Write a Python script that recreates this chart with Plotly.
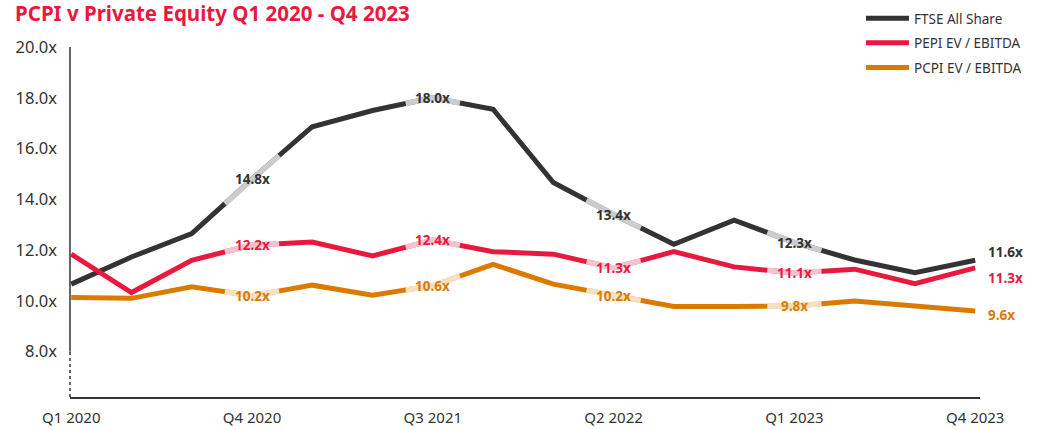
import plotly.graph_objects as go
import numpy as np

quarters = ["Q1 2020", "Q2 2020", "Q3 2020", "Q4 2020",
            "Q1 2021", "Q2 2021", "Q3 2021", "Q4 2021",
            "Q1 2022", "Q2 2022", "Q3 2022", "Q4 2022",
            "Q1 2023", "Q2 2023", "Q3 2023", "Q4 2023"]
ftse = [10.66, 11.73, 12.65, 14.8, 16.86, 17.5, 18.0, 17.55,
        14.66, 13.4, 12.23, 13.18, 12.3, 11.61, 11.11, 11.6]
pepi = [11.84, 10.33, 11.6, 12.2, 12.32, 11.77, 12.4, 11.94,
        11.84, 11.3, 11.94, 11.34, 11.1, 11.25, 10.68, 11.3]
pcpi = [10.13, 10.1, 10.56, 10.2, 10.62, 10.22, 10.6, 11.44,
        10.66, 10.2, 9.78, 9.78, 9.8, 10.0, 9.8, 9.6]
tick_labels = ["Q1 2020", "Q4 2020", "Q3 2021", "Q2 2022", "Q1 2023", "Q4 2023"]
label_quarters = ["Q4 2020", "Q3 2021", "Q2 2022", "Q1 2023"]
y_ticks = [8, 10, 12, 14, 16, 18, 20]

series = [
    ("FTSE All Share", ftse, "#333333", "#cccccc", 8),
    ("PEPI EV / EBITDA", pepi, "#e8193f", "#f6c3cd", -10),
    ("PCPI EV / EBITDA", pcpi, "#da7b00", "#f6dfc2", -4),
]

Y_MIN, Y_MAX = 6.215, 20.0
xi = np.arange(len(quarters))
fig = go.Figure()

for i, (name, vals, col, light, _) in enumerate(series):
    fig.add_trace(go.Scatter(
        x=xi, y=vals, mode="lines", name=name,
        line=dict(color=col, width=5),
        legendgroup=f"g{i}", hoverinfo="skip"))

HALF = 0.45
for name, vals, col, light, _ in series:
    for q in label_quarters:
        k = quarters.index(q)
        xs = [k - HALF, k, k + HALF]
        ys = list(np.interp(xs, xi, vals))
        fig.add_trace(go.Scatter(
            x=xs, y=ys, mode="lines", showlegend=False,
            line=dict(color=light, width=5.6), hoverinfo="skip"))
        fig.add_annotation(
            x=k, y=vals[k], text=f"{vals[k]:.1f}x", showarrow=False,
            xanchor="center", yanchor="middle",
            font=dict(family="Noto Sans", size=13.5, color=col, weight="bold"))

last = len(quarters) - 1
for name, vals, col, light, ysh in series:
    fig.add_annotation(
        x=last, y=vals[last], text=f"{vals[last]:.1f}x", showarrow=False,
        xanchor="left", yanchor="middle", xshift=11, yshift=ysh,
        font=dict(family="Noto Sans", size=13.5, color=col, weight="bold"))

# y axis line: solid down to 8.0x, dotted below to the x axis
fig.add_shape(type="line", xref="paper", yref="y", x0=0, x1=0,
              y0=y_ticks[0], y1=y_ticks[-1], line=dict(color="#333333", width=1.5))
fig.add_shape(type="line", xref="paper", yref="y", x0=0, x1=0,
              y0=Y_MIN, y1=y_ticks[0], line=dict(color="#333333", width=1.5, dash="3px,3px"))

fig.update_layout(
    width=1041, height=430,
    margin=dict(l=70, r=61, t=47, b=33, autoexpand=False),
    paper_bgcolor="white", plot_bgcolor="white",
    font=dict(family="Noto Sans", color="#333333"),
    title=dict(text="PCPI v Private Equity Q1 2020 - Q4 2023",
               x=15 / 1041, xref="container", xanchor="left",
               y=1 - 14 / 430, yref="container", yanchor="middle",
               font=dict(family="Noto Sans", size=20.5, color="#e8193f", weight="bold")),
    legend=dict(x=(861 - 70) / 910, xanchor="left", y=1 + 44 / 350, yanchor="top",
                font=dict(size=13.5, color="#333333"), itemwidth=43,
                traceorder="grouped", tracegroupgap=4, bgcolor="rgba(0,0,0,0)"),
    showlegend=True,
)
fig.update_xaxes(range=[-0.02, 15.08], tickvals=[quarters.index(t) for t in tick_labels],
                 ticktext=tick_labels, showgrid=False, zeroline=False,
                 showline=True, linecolor="#333333", linewidth=2,
                 ticks="", ticklabelstandoff=6, automargin=False,
                 tickfont=dict(size=15, color="#333333"))
fig.update_yaxes(range=[Y_MIN, Y_MAX], tickvals=y_ticks,
                 ticktext=[f"{v:.1f}x" for v in y_ticks],
                 showgrid=False, zeroline=False, showline=False,
                 ticks="", ticklabelstandoff=12, automargin=False,
                 tickfont=dict(size=16.5, color="#333333"))

fig.write_html("out.html", config={"displayModeBar": False},
               post_script="document.body.style.margin='0';")
